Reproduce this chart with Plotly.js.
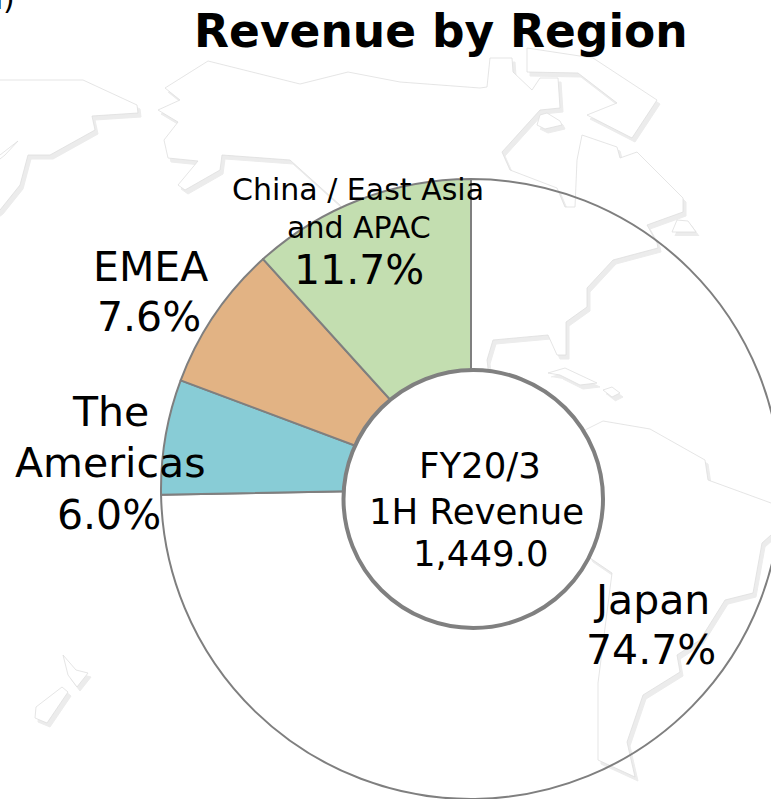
<!DOCTYPE html>
<html><head><meta charset="utf-8">
<script src="https://cdn.plot.ly/plotly-3.0.1.min.js"></script>
<style>html,body{margin:0;padding:0;background:#fff;overflow:hidden;width:771px;height:799px}</style>
</head><body><div id="chart" style="width:800px;height:799px"></div>
<script>
const regions = ['Japan', 'The Americas', 'EMEA', 'China / East Asia and APAC'];
const shares = [74.7, 6.0, 7.6, 11.7];
const sliceColors = ['rgba(255,255,255,0)', '#88CCD6', '#E2B384', '#C3DEB0'];
const titleText = 'Revenue by Region';
const centerLines = ['FY20/3', '1H Revenue', '1,449.0'];

// decorative world-map backdrop, traced in page pixels
const mapLandA = [[-20,80],[83,80],[137,105],[138,113],[92,116],[95,130],[50,155],[28,155],[20,185],[0,210],[-20,225]];
const mapLandA2 = [[-20,165],[0,155],[18,141],[5,155],[-20,175]];
const mapLandB = [[208,61],[300,84],[348,72],[400,82],[480,88],[487,87],[490,58],[512,58],[513,72],[532,90],[540,78],[558,78],[560,108],[540,110],[502,152],[510,170],[557,188],[565,207],[575,207],[577,160],[582,135],[617,147],[620,158],[637,152],[683,198],[683,212],[647,225],[657,243],[658,248],[613,260],[587,288],[587,307],[566,322],[566,355],[557,355],[548,335],[493,340],[487,360],[488,368],[475,420],[400,400],[340,205],[290,160],[222,155],[220,170],[185,190],[178,185],[198,161],[168,158],[164,140],[178,122],[158,110],[180,100],[165,88]];
const mapLandC = [[527,48],[527,72],[578,73],[617,103],[587,115],[632,138],[657,100],[593,58]];
const mapIsle1 = [[540,115],[547,113],[560,121],[562,125],[545,129],[537,125]];
const mapIsle2 = [[672,232],[677,220],[688,221],[696,232]];
const mapIsle3 = [[548,373],[565,368],[597,383],[580,385],[560,375]];
const mapIsle4 = [[603,390],[612,387],[620,393],[612,397]];
const mapSouth = [[585,430],[603,421],[650,429],[705,460],[708,480],[771,503],[810,515],[810,530],[771,535],[762,543],[753,593],[725,600],[700,640],[677,655],[680,672],[643,695],[627,742],[635,777],[598,760],[598,683],[612,573],[590,558],[560,500]];
const mapNZ1 = [[63,655],[68,675],[77,687],[88,673],[76,670]];
const mapNZ2 = [[62,687],[68,692],[47,723],[35,718],[36,707]];
const mapShapes = [mapLandA, mapLandA2, mapLandB, mapLandC, mapIsle1, mapIsle2, mapIsle3, mapIsle4, mapSouth, mapNZ1, mapNZ2];

const W = 800, H = 799;
const traces = [];
// shadows first, then land
mapShapes.forEach(s => traces.push({type:'scatter', mode:'lines', x:s.map(p=>p[0]+3), y:s.map(p=>p[1]+4).concat([]),
  fill:'toself', fillcolor:'#ececec', line:{color:'#ececec', width:1}, hoverinfo:'skip', showlegend:false}));
mapShapes.forEach(s => traces.push({type:'scatter', mode:'lines', x:s.map(p=>p[0]).concat([s[0][0]]), y:s.map(p=>p[1]).concat([s[0][1]]),
  fill:'toself', fillcolor:'#ffffff', line:{color:'#dedede', width:0.8}, hoverinfo:'skip', showlegend:false}));

traces.push({type:'pie', labels:regions, values:shares, sort:false, direction:'clockwise', rotation:0,
  textinfo:'none', hoverinfo:'skip', showlegend:false,
  domain:{x:[161/W, 781/W], y:[0, 620/H]},
  marker:{colors:sliceColors, line:{color:'#7f7f7f', width:2}}});

const pct = v => v.toFixed(1) + '%';
const font = 'DejaVu Sans, Verdana, sans-serif';
const label = (text, x, y, size, weight) => ({text, x, y, xref:'x', yref:'y', xanchor:'center', yanchor:'middle',
  showarrow:false, font:{family:font, size, color:'#000', weight:weight||400}});

const annotations = [
  label(titleText, 441, 31, 45.5, 700),
  label('EMEA', 150, 267, 41), label(pct(shares[2]), 149, 317, 41),
  label('The', 110, 412, 41), label('Americas', 110, 463, 41), label(pct(shares[1]), 109, 515, 41),
  label('China / East Asia', 358, 189, 30), label('and APAC', 359, 227, 30), label(pct(shares[3]), 359, 270, 41),
  label('Japan', 651, 600, 41), label(pct(shares[0]), 651, 650, 41),
  label(centerLines[0], 480, 465, 35.5), label(centerLines[1], 476, 511, 35.5), label(centerLines[2], 481, 553, 35.5),
  {text:'n)', x:17, y:18, xref:'x', yref:'y', xanchor:'right', yanchor:'bottom', showarrow:false, font:{family:font, size:30, color:'#000'}}
];

const layout = {
  width:W, height:H, margin:{l:0,r:0,t:0,b:0}, paper_bgcolor:'#fff', plot_bgcolor:'rgba(0,0,0,0)', showlegend:false,
  xaxis:{range:[0,W], visible:false, fixedrange:true},
  yaxis:{range:[H,0], visible:false, fixedrange:true},
  shapes:[{type:'circle', xref:'x', yref:'y', x0:343.5, x1:603, y0:370, y1:628, layer:'above',
    fillcolor:'#fff', line:{color:'#808080', width:4}}],
  annotations
};
Plotly.newPlot('chart', traces, layout, {displayModeBar:false, staticPlot:true});
</script></body></html>
